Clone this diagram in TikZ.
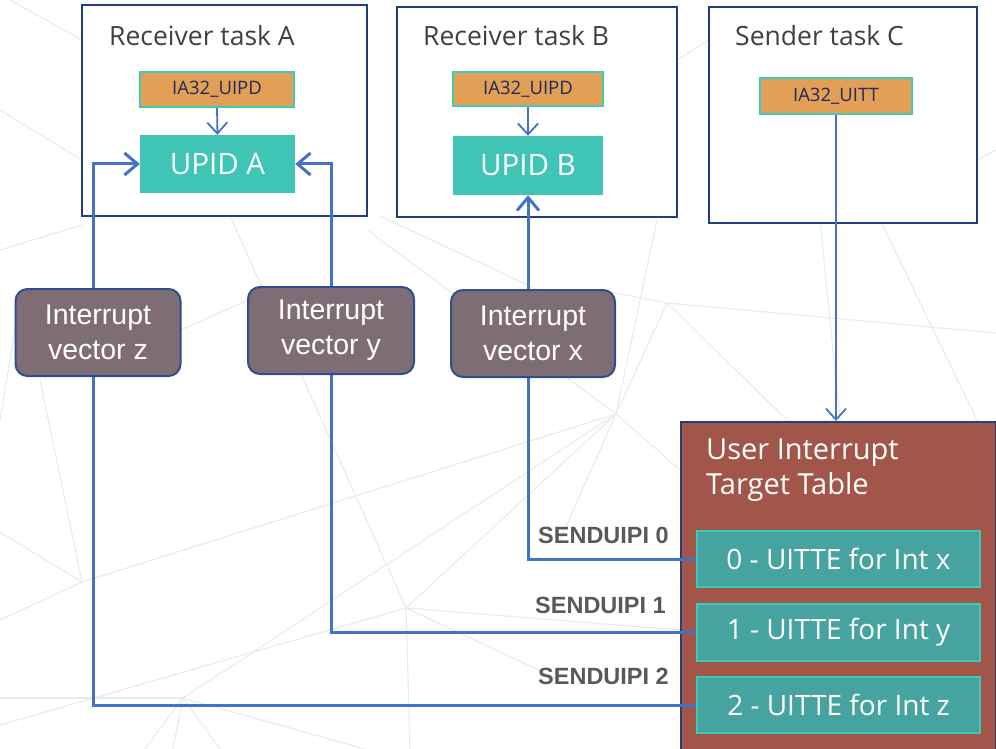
\documentclass[tikz,border=0pt]{standalone}
\usepackage{fontspec}
\setmainfont{Open Sans}
\newfontfamily\arialf{Liberation Sans}
\usetikzlibrary{arrows.meta,calc}
\definecolor{navy}{HTML}{1F3F7F}
\definecolor{connblue}{HTML}{4472C4}
\definecolor{orangefill}{HTML}{E39F55}
\definecolor{tealborder}{HTML}{3DCBB7}
\definecolor{upidfill}{HTML}{40C4B6}
\definecolor{vecfill}{HTML}{7F6D75}
\definecolor{vecborder}{HTML}{2E4F8F}
\definecolor{uittfill}{HTML}{A2564A}
\definecolor{uittefill}{HTML}{47A39F}
\definecolor{titlegray}{HTML}{404040}
\definecolor{labelgray}{HTML}{595959}
\definecolor{regtext}{HTML}{1F2A5C}
\definecolor{netgray}{HTML}{EBEBEB}
\tikzset{
  taskbox/.style={draw=navy, line width=2.2pt, fill=white, inner sep=0pt},
  tasktitle/.style={anchor=west, text=titlegray, font=\fontsize{26.5}{30}\selectfont, inner sep=0pt},
  regbox/.style={draw=tealborder, line width=1.8pt, fill=orangefill, text=regtext, font=\fontsize{18.5}{20}\selectfont, inner sep=0pt},
  upidbox/.style={fill=upidfill, text=white, font=\fontsize{29.5}{32}\selectfont, inner sep=0pt},
  vecbox/.style={draw=vecborder, line width=2pt, fill=vecfill, rounded corners=12pt, text=white, align=center, font=\arialf\fontsize{28.5}{35}\selectfont, inner sep=0pt},
  uittbox/.style={draw=navy, line width=2.2pt, fill=uittfill, inner sep=0pt},
  uittebox/.style={draw=tealborder, line width=2pt, fill=uittefill, text=white, font=\fontsize{28}{32}\selectfont, inner sep=0pt},
  sendlbl/.style={anchor=east, text=labelgray, font=\arialf\bfseries\fontsize{23.5}{26}\selectfont, inner sep=0pt},
  conn/.style={draw=connblue, line width=3pt},
  bigtip/.style={-{Straight Barb[length=13pt,width=22pt,line width=3pt]}},
  thinconn/.style={draw=connblue, line width=1.8pt, -{Straight Barb[length=11pt,width=20pt,line width=1.8pt]}},
  netline/.style={draw=netgray, line width=1.2pt}
}
\begin{document}
\begin{tikzpicture}[x=1pt,y=-1pt]
\useasboundingbox (0,0) rectangle (996,749);
\clip (0,0) rectangle (996,749);
% background network
\foreach \a/\b in {
  {(0,532)}/{(82,582)}, {(82,582)}/{(40,380)}, {(0,620)}/{(82,582)}, {(82,582)}/{(616,414)},
  {(183,698)}/{(616,414)}, {(183,698)}/{(145,749)}, {(183,698)}/{(173,749)}, {(183,698)}/{(220,749)},
  {(183,698)}/{(365,749)}, {(0,698)}/{(183,698)}, {(0,725)}/{(406,608)}, {(406,608)}/{(616,414)},
  {(406,608)}/{(410,749)}, {(406,608)}/{(560,680)}, {(406,608)}/{(680,630)}, {(657,220)}/{(616,414)},
  {(820,220)}/{(840,420)}, {(880,220)}/{(977,420)}, {(600,290)}/{(667,303)}, {(667,303)}/{(996,333)},
  {(667,303)}/{(787,420)}, {(667,303)}/{(616,414)}, {(616,414)}/{(680,470)}, {(0,110)}/{(82,160)},
  {(0,250)}/{(82,225)}, {(367,230)}/{(616,414)}, {(230,216)}/{(406,608)}, {(0,420)}/{(15,330)},
  {(380,216)}/{(560,300)}, {(977,160)}/{(996,150)}, {(677,60)}/{(709,40)}, {(10,0)}/{(82,40)},
  {(616,414)}/{(560,540)}, {(181,330)}/{(248,300)}}
  \draw[netline] \a -- \b;
% task boxes
\node[taskbox, minimum width=285pt, minimum height=211pt] (taskA) at (224.5,110.5) {};
\node[taskbox, minimum width=280pt, minimum height=210pt] (taskB) at (537,112) {};
\node[taskbox, minimum width=268pt, minimum height=216pt] (taskC) at (843,115) {};
\node[tasktitle] (titleA) at (109,36) {Receiver task A};
\node[tasktitle] (titleB) at (423,36) {Receiver task B};
\node[tasktitle] (titleC) at (735,36) {Sender task C};
\node[regbox, minimum width=154pt, minimum height=35pt] (uipdA) at (217,89.5) {IA32\_UIPD};
\node[upidbox, minimum width=155pt, minimum height=58pt] (upidA) at (217.5,164) {UPID A};
\node[regbox, minimum width=150pt, minimum height=34pt] (uipdB) at (528,89) {IA32\_UIPD};
\node[upidbox, minimum width=150pt, minimum height=59pt] (upidB) at (528,165.5) {UPID B};
\node[regbox, minimum width=152pt, minimum height=36pt] (uittC) at (836,96) {IA32\_UITT};
% UITT
\node[uittbox, minimum width=315pt, minimum height=340pt, anchor=north west] (uitt) at (680,421) {};
\node[anchor=north west, text=white, align=left, font=\fontsize{29}{35}\selectfont, inner sep=0pt] (uitttitle) at (706,439) {User Interrupt\\Target Table};
\node[uittebox, minimum width=283pt, minimum height=56pt] (uitte0) at (838.5,559) {0 - UITTE for Int x};
\node[uittebox, minimum width=283pt, minimum height=57pt] (uitte1) at (838.5,632.5) {1 - UITTE for Int y};
\node[uittebox, minimum width=283pt, minimum height=56pt] (uitte2) at (838.5,705) {2 - UITTE for Int z};
% labels
\node[sendlbl] (s0) at (669,535) {SENDUIPI 0};
\node[sendlbl] (s1) at (666,605) {SENDUIPI 1};
\node[sendlbl] (s2) at (669,676) {SENDUIPI 2};
% connectors
\coordinate (zbend) at (93,400);
\coordinate (ybend) at (331,400);
\draw[conn, bigtip] (uitte2.west) -| (zbend) |- (upidA.west);
\draw[conn, bigtip] (uitte1.west) -| (ybend) |- (upidA.east);
\draw[conn, bigtip] (uitte0.west) -| (upidB.south);
\draw[thinconn] (uipdA.south) -- (upidA.north);
\draw[thinconn] (uipdB.south) -- (upidB.north);
\draw[thinconn] (uittC.south) -- (uittC.south |- uitt.north);
% interrupt vector boxes
\node[vecbox, minimum width=165pt, minimum height=87pt] (vecz) at (98,332.5) {Interrupt\\vector z};
\node[vecbox, minimum width=166pt, minimum height=87pt] (vecy) at (331,330.5) {Interrupt\\vector y};
\node[vecbox, minimum width=164pt, minimum height=87pt] (vecx) at (533,333.5) {Interrupt\\vector x};
\end{tikzpicture}
\end{document}
